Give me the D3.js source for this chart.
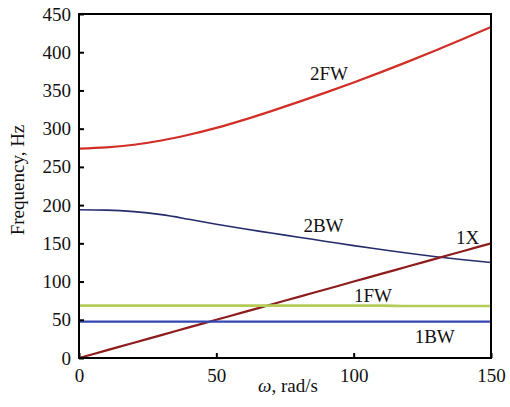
<!DOCTYPE html>
<html>
<head>
<meta charset="utf-8">
<script src="https://cdn.jsdelivr.net/npm/d3@7"></script>
<style>
  body { margin: 0; background: #fff; }
  svg text { font-family: "Liberation Serif", "Times New Roman", serif; fill: #111; }
</style>
</head>
<body>
<div id="chart"></div>
<script>
// speed samples, rad/s
const omega = [0, 10, 20, 30, 40, 50, 60, 70, 80, 90, 100, 110, 120, 130, 140, 150];
const f2FW = [274, 275.5, 279, 284.5, 292, 301, 311.5, 323, 335, 347.5, 360.5, 374, 388, 402.5, 417.5, 433];
const f2BW = [194, 193.5, 191.5, 187.5, 181.5, 175, 169, 163.5, 158, 152.5, 147, 142, 137, 132.5, 128.5, 125];
const f1X  = [0, 10, 20, 30, 40, 50, 60, 70, 80, 90, 100, 110, 120, 130, 140, 150];
const f1FW = [68.5, 68.5, 68.5, 68.5, 68.5, 68.5, 68.5, 68.5, 68.5, 68.5, 68.5, 68.5, 68, 68, 68, 68];
const f1BW = [47.5, 47.5, 47.5, 47.5, 47.5, 47.5, 47.5, 47.5, 47.5, 47.5, 47.5, 47.5, 47.5, 47.5, 47.5, 47.5];
const xTicks = [0, 50, 100, 150];
const yTicks = [0, 50, 100, 150, 200, 250, 300, 350, 400, 450];

// label anchor in data units (centre, baseline)
const series = [
  { name: "2FW", vals: f2FW, color: "#d12e26", w: 2.2, lx: 91, ly: 364 },
  { name: "2BW", vals: f2BW, color: "#262c6b", w: 1.6, lx: 89, ly: 165 },
  { name: "1X",  vals: f1X,  color: "#8e1c1c", w: 2.2, lx: 141.5, ly: 149 },
  { name: "1FW", vals: f1FW, color: "#b4cb55", w: 2.6, lx: 107, ly: 73 },
  { name: "1BW", vals: f1BW, color: "#3547b3", w: 2.2, lx: 129.5, ly: 20 }
];

const W = 510, H = 407;
const M = { top: 14, right: 19, bottom: 49, left: 79 };

const svg = d3.select("#chart").append("svg").attr("width", W).attr("height", H);

const x = d3.scaleLinear().domain([0, 150]).range([M.left, W - M.right]);
const y = d3.scaleLinear().domain([0, 450]).range([H - M.bottom, M.top]);

// curves
const line = d3.line().x((d, i) => x(omega[i])).y((d) => y(d)).curve(d3.curveMonotoneX);
svg.selectAll(".curve").data(series).join("path")
  .attr("class", "curve")
  .attr("fill", "none")
  .attr("stroke", (d) => d.color)
  .attr("stroke-width", (d) => d.w)
  .attr("d", (d) => line(d.vals));

// curve labels
svg.selectAll(".lbl").data(series).join("text")
  .attr("class", "lbl")
  .attr("x", (d) => x(d.lx))
  .attr("y", (d) => y(d.ly))
  .attr("text-anchor", "middle")
  .style("font-size", "19px")
  .text((d) => d.name);

// axes, ticks point inward
const gx = svg.append("g").attr("transform", `translate(0,${H - M.bottom})`)
  .call(d3.axisBottom(x).tickValues(xTicks).tickSize(-5).tickPadding(11));
const gy = svg.append("g").attr("transform", `translate(${M.left},0)`)
  .call(d3.axisLeft(y).tickValues(yTicks).tickSize(-5).tickPadding(8));
[gx, gy].forEach((g) => {
  g.select(".domain").remove();
  g.selectAll(".tick line").attr("stroke", "#000").attr("stroke-width", 2);
  g.selectAll("text").style("font-size", "19px").attr("fill", "#111");
});

// frame
svg.append("rect")
  .attr("x", M.left).attr("y", M.top)
  .attr("width", W - M.left - M.right).attr("height", H - M.top - M.bottom)
  .attr("fill", "none").attr("stroke", "#000").attr("stroke-width", 2);

// axis titles
svg.append("text")
  .attr("x", 288).attr("y", 392)
  .attr("text-anchor", "middle").style("font-size", "19px")
  .html('<tspan font-style="italic">ω</tspan>, rad/s');
svg.append("text")
  .attr("transform", "translate(24,180) rotate(-90)")
  .attr("text-anchor", "middle").style("font-size", "19px")
  .text("Frequency, Hz");
</script>
</body>
</html>
